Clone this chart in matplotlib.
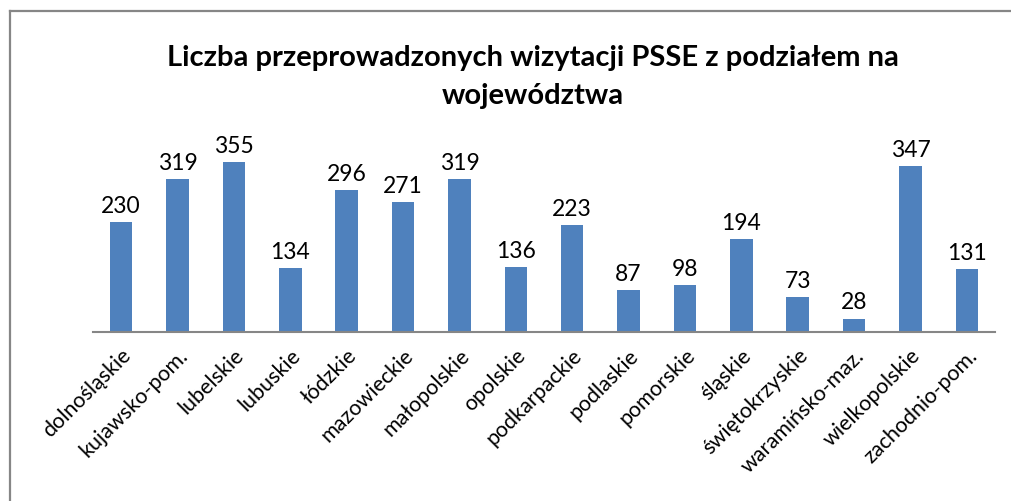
import matplotlib.pyplot as plt
from matplotlib.lines import Line2D

woj = ["dolnośląskie", "kujawsko-pom.", "lubelskie", "lubuskie", "łódzkie",
       "mazowieckie", "małopolskie", "opolskie", "podkarpackie", "podlaskie",
       "pomorskie", "śląskie", "świętokrzyskie", "waramińsko-maz.",
       "wielkopolskie", "zachodnio-pom."]
wizytacje = [230, 319, 355, 134, 296, 271, 319, 136, 223, 87, 98, 194, 73, 28, 347, 131]

plt.rcParams['font.family'] = ['Lato', 'DejaVu Sans']

fig = plt.figure(figsize=(10.11, 5.02), dpi=100)
# ramka wykresu (widoczna tylko lewa i gorna krawedz)
fx, fy = 9.5 / 1011, 1 - 11.5 / 502
fig.add_artist(Line2D([fx, fx], [0, fy], transform=fig.transFigure,
                      color='#868686', linewidth=1.6))
fig.add_artist(Line2D([fx, 1], [fy, fy], transform=fig.transFigure,
                      color='#868686', linewidth=1.6))

ax = fig.add_axes([93 / 1011, (502 - 333) / 502, 902 / 1011, 191.5 / 502])
x = range(len(woj))
ax.bar(x, wizytacje, width=0.4, color='#4F81BD')
for xi, v in zip(x, wizytacje):
    ax.text(xi, v + 13, str(v), ha='center', va='bottom', fontsize=16.5)

ax.set_xlim(-0.5, len(woj) - 0.5)
ax.set_ylim(0, 400)
ax.set_yticks([])
ax.set_xticks(list(x))
ax.set_xticklabels(woj, rotation=45, ha='right', va='top',
                   rotation_mode='anchor', fontsize=15.5)
ax.tick_params(axis='x', length=0, pad=9)
for s in ['top', 'right', 'left']:
    ax.spines[s].set_visible(False)
ax.spines['bottom'].set_color('#868686')
ax.spines['bottom'].set_linewidth(1.5)

fig.text(533 / 1011, 1 - 77 / 502,
         "Liczba przeprowadzonych wizytacji PSSE z podziałem na\nwojewództwa",
         ha='center', va='center', fontsize=21, fontweight='bold',
         linespacing=1.55)

fig.savefig("out.png", dpi=100)
